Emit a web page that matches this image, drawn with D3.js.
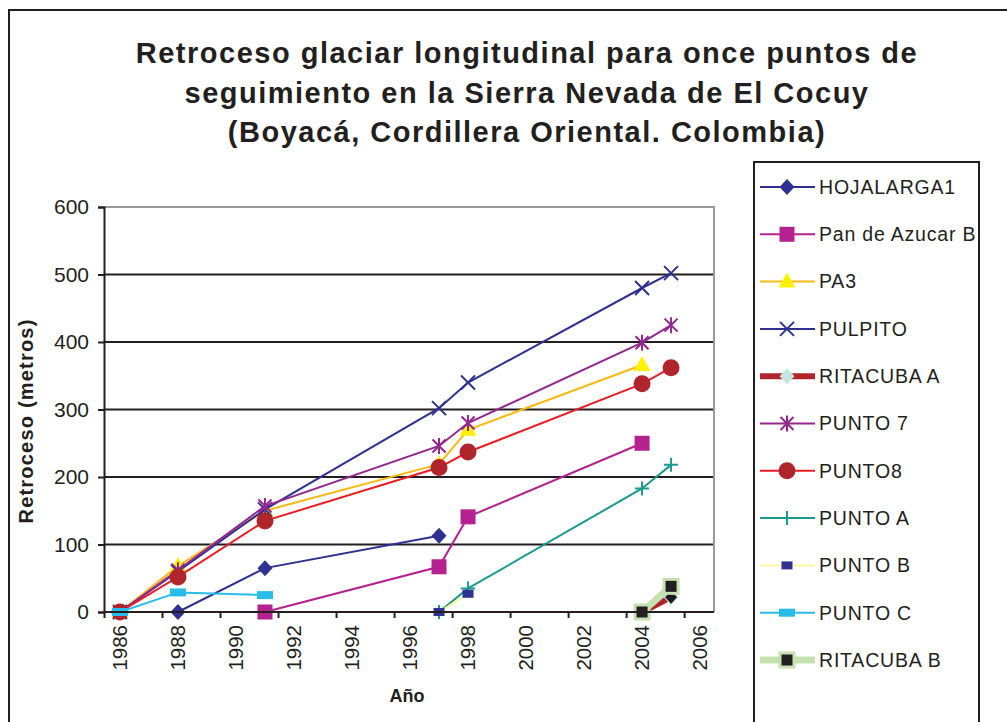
<!DOCTYPE html>
<html>
<head>
<meta charset="utf-8">
<script src="https://cdn.jsdelivr.net/npm/d3@7"></script>
<style>
  body { margin: 0; background: #fff; }
  svg { display: block; font-family: "Liberation Sans", Arial, sans-serif; }
</style>
</head>
<body>
<svg id="chart" width="1007" height="722"></svg>
<script>
(function() {

    // data: [year, retroceso (m)]
    var hojalarga1 = [[1988, 0], [1991, 65], [1997, 113]];
    var panDeAzucarB = [[1991, 0], [1997, 67], [1998, 141], [2004, 250]];
    var pa3 = [[1986, 0], [1988, 68], [1991, 150], [1997, 219], [1998, 270], [2004, 366]];
    var pulpito = [[1986, 0], [1988, 60], [1991, 152], [1997, 302], [1998, 340], [2004, 480], [2005, 502]];
    var ritacubaA = [[2004, 0], [2005, 22]];
    var punto7 = [[1986, 0], [1988, 62], [1991, 157], [1997, 246], [1998, 280], [2004, 399], [2005, 425]];
    var punto8 = [[1986, 0], [1988, 52], [1991, 135], [1997, 214], [1998, 237], [2004, 338], [2005, 362]];
    var puntoA = [[1997, 0], [1998, 35], [2004, 183], [2005, 218]];
    var puntoB = [[1997, 0], [1998, 27]];
    var puntoC = [[1986, 0], [1988, 29], [1991, 25]];
    var ritacubaB = [[2004, 0], [2005, 38]];

    var seriesNames = ['HOJALARGA1', 'Pan de Azucar B', 'PA3', 'PULPITO', 'RITACUBA A',
        'PUNTO 7', 'PUNTO8', 'PUNTO A', 'PUNTO B', 'PUNTO C', 'RITACUBA B'];
    var seriesData = [hojalarga1, panDeAzucarB, pa3, pulpito, ritacubaA,
        punto7, punto8, puntoA, puntoB, puntoC, ritacubaB];

    var yearTicks = [1986, 1988, 1990, 1992, 1994, 1996, 1998, 2000, 2002, 2004, 2006];
    var valueTicks = [0, 100, 200, 300, 400, 500, 600];

    var titleLines = [
        'Retroceso glaciar longitudinal para once puntos de',
        'seguimiento en la Sierra Nevada de El Cocuy',
        '(Boyacá, Cordillera Oriental. Colombia)'
    ];

    // styles, one per series
    var styles = {
        'HOJALARGA1':      { line: '#2e3192', lw: 2, mk: 'diamond', fill: '#2e3192' },
        'Pan de Azucar B': { line: '#b5218e', lw: 2, mk: 'square', fill: '#b5218e' },
        'PA3':             { line: '#fdb913', lw: 2, mk: 'triangle', fill: '#fff200' },
        'PULPITO':         { line: '#2e3192', lw: 2, mk: 'x', fill: '#2e3192' },
        'RITACUBA A':      { line: '#b0252b', lw: 6, mk: 'diamondS', fill: '#c3e6e3' },
        'PUNTO 7':         { line: '#92278f', lw: 2, mk: 'asterisk', fill: '#92278f' },
        'PUNTO8':          { line: '#ed1c24', lw: 2, mk: 'circle', fill: '#b0252b' },
        'PUNTO A':         { line: '#1b9a8e', lw: 2, mk: 'plus', fill: '#1b9a8e' },
        'PUNTO B':         { line: '#fff59d', lw: 2, mk: 'dash', fill: '#2e3192' },
        'PUNTO C':         { line: '#27bde8', lw: 2, mk: 'bar', fill: '#27bde8' },
        'RITACUBA B':      { line: '#c5e1b0', lw: 7, mk: 'squareB', fill: '#231f20' }
    };

    var svg = d3.select('#chart');
    var ink = '#231f20';

    // chart area border
    svg.append('rect')
        .attr('x', 9).attr('y', 10)
        .attr('width', 1010).attr('height', 730)
        .attr('fill', 'none').attr('stroke', ink).attr('stroke-width', 2);

    // title
    svg.append('text')
        .attr('x', 527).attr('y', 63)
        .attr('text-anchor', 'middle')
        .attr('font-size', 29).attr('font-weight', 'bold').attr('fill', ink)
        .attr('letter-spacing', 1.5)
        .selectAll('tspan')
        .data(titleLines)
        .enter()
        .append('tspan')
        .attr('x', 527)
        .attr('dy', function(d, i) { return i ? 39.5 : 0; })
        .text(function(d) { return d; });

    var left = 104, right = 714, top = 207, bottom = 612;

    var x = d3.scaleLinear().domain([1985.45, 2006.48]).range([left, right]);
    var y = d3.scaleLinear().domain([0, 600]).range([bottom, top]);

    var plot = svg.append('g');

    // gridlines
    plot.selectAll('line.grid')
        .data(valueTicks.filter(function(v) { return v > 0 && v < 600; }))
        .enter()
        .append('line')
        .attr('x1', left).attr('x2', right)
        .attr('y1', function(d) { return y(d); })
        .attr('y2', function(d) { return y(d); })
        .attr('stroke', ink).attr('stroke-width', 2);

    // plot area top / right border
    plot.append('path')
        .attr('d', 'M' + left + ',' + y(600) + 'H' + right + 'V' + bottom)
        .attr('fill', 'none').attr('stroke', '#9a9a9a').attr('stroke-width', 2);

    // y axis
    var yAxis = d3.axisLeft(y).tickValues(valueTicks).tickSize(6).tickPadding(9);
    var gy = svg.append('g').attr('transform', 'translate(' + left + ',0)').call(yAxis);
    gy.select('.domain').attr('stroke', ink).attr('stroke-width', 2);
    gy.selectAll('.tick line').attr('stroke', ink).attr('stroke-width', 2);
    gy.selectAll('.tick text')
        .attr('font-size', 21).attr('fill', ink)
        .attr('font-family', '"Liberation Sans", Arial, sans-serif');

    // x axis: tick marks sit half a year before the labels, as in the source
    var tickMarks = yearTicks.map(function(v) { return v - 0.55; });
    var xAxis = d3.axisBottom(x).tickValues(tickMarks).tickSize(6).tickFormat('');
    var gx = svg.append('g').attr('transform', 'translate(0,' + bottom + ')').call(xAxis);
    gx.select('.domain').attr('stroke', ink).attr('stroke-width', 2)
        .attr('d', 'M' + left + ',0H' + right);
    gx.selectAll('.tick line').attr('stroke', ink).attr('stroke-width', 2);

    svg.append('g').selectAll('text')
        .data(yearTicks)
        .enter()
        .append('text')
        .attr('transform', function(d) { return 'translate(' + x(d) + ',' + (bottom + 13) + ') rotate(-90)'; })
        .attr('text-anchor', 'end')
        .attr('dy', '0.35em')
        .attr('font-size', 20.5).attr('fill', ink)
        .text(function(d) { return d; });

    // axis titles
    svg.append('text')
        .attr('transform', 'translate(33,421) rotate(-90)')
        .attr('text-anchor', 'middle')
        .attr('font-size', 20).attr('font-weight', 'bold').attr('fill', ink)
        .attr('letter-spacing', 1.2)
        .text('Retroceso (metros)');

    svg.append('text')
        .attr('x', 407).attr('y', 702)
        .attr('text-anchor', 'middle')
        .attr('font-size', 18).attr('font-weight', 'bold').attr('fill', ink)
        .text('Año');

    // marker drawing
    function marker(g, s, cx, cy) {
        var m = s.mk;
        if (m === 'diamond' || m === 'diamondS') {
            var w = m === 'diamond' ? 7.5 : 6;
            g.append('path')
                .attr('d', 'M' + cx + ',' + (cy - w - 0.5) + 'L' + (cx + w) + ',' + cy + 'L' + cx + ',' + (cy + w + 0.5) + 'L' + (cx - w) + ',' + cy + 'Z')
                .attr('fill', s.fill);
        } else if (m === 'square') {
            g.append('rect').attr('x', cx - 7.5).attr('y', cy - 7.5)
                .attr('width', 15).attr('height', 15).attr('fill', s.fill);
        } else if (m === 'squareB') {
            g.append('rect').attr('x', cx - 7).attr('y', cy - 7)
                .attr('width', 14).attr('height', 14).attr('fill', s.fill)
                .attr('stroke', s.line).attr('stroke-width', 3);
        } else if (m === 'triangle') {
            g.append('path')
                .attr('d', 'M' + cx + ',' + (cy - 9) + 'L' + (cx + 8.5) + ',' + (cy + 6) + 'L' + (cx - 8.5) + ',' + (cy + 6) + 'Z')
                .attr('fill', s.fill);
        } else if (m === 'circle') {
            g.append('circle').attr('cx', cx).attr('cy', cy).attr('r', 8.5).attr('fill', s.fill);
        } else if (m === 'x') {
            g.append('path')
                .attr('d', 'M' + (cx - 7) + ',' + (cy - 7) + 'L' + (cx + 7) + ',' + (cy + 7) + 'M' + (cx + 7) + ',' + (cy - 7) + 'L' + (cx - 7) + ',' + (cy + 7))
                .attr('stroke', s.fill).attr('stroke-width', 2);
        } else if (m === 'asterisk') {
            g.append('path')
                .attr('d', 'M' + (cx - 6.5) + ',' + (cy - 6.5) + 'L' + (cx + 6.5) + ',' + (cy + 6.5) + 'M' + (cx + 6.5) + ',' + (cy - 6.5) + 'L' + (cx - 6.5) + ',' + (cy + 6.5) + 'M' + cx + ',' + (cy - 8) + 'V' + (cy + 8))
                .attr('stroke', s.fill).attr('stroke-width', 2);
        } else if (m === 'plus') {
            g.append('path')
                .attr('d', 'M' + (cx - 7) + ',' + cy + 'H' + (cx + 7) + 'M' + cx + ',' + (cy - 7) + 'V' + (cy + 7))
                .attr('stroke', s.fill).attr('stroke-width', 2);
        } else if (m === 'dash') {
            g.append('rect').attr('x', cx - 5.5).attr('y', cy - 4)
                .attr('width', 11).attr('height', 8).attr('fill', s.fill);
        } else if (m === 'bar') {
            g.append('rect').attr('x', cx - 8).attr('y', cy - 4)
                .attr('width', 16).attr('height', 8).attr('fill', s.fill);
        }
    }

    var line = d3.line()
        .x(function(d) { return x(d[0]); })
        .y(function(d) { return y(d[1]); });

    var seriesG = plot.selectAll('g.series')
        .data(seriesNames)
        .enter()
        .append('g')
        .attr('class', 'series');

    seriesG.each(function(name, i) {
        var g = d3.select(this);
        var s = styles[name];
        g.append('path')
            .attr('d', line(seriesData[i]))
            .attr('fill', 'none')
            .attr('stroke', s.line)
            .attr('stroke-width', s.lw);
        seriesData[i].forEach(function(d) {
            var ms = s;
            if (s.mk === 'diamondS') {
                ms = { mk: 'diamondS', fill: '#1e1a1b', line: s.line };
                marker(g, { mk: 'diamond', fill: s.fill }, x(d[0]), y(d[1]));
            }
            marker(g, ms, x(d[0]), y(d[1]));
        });
    });

    // legend
    var lx = 754, ly = 162;
    svg.append('rect')
        .attr('x', lx).attr('y', ly)
        .attr('width', 225).attr('height', 600)
        .attr('fill', '#fff').attr('stroke', ink).attr('stroke-width', 2);

    var leg = svg.append('g').selectAll('g')
        .data(seriesNames)
        .enter()
        .append('g')
        .attr('transform', function(d, i) { return 'translate(0,' + (187 + i * 47.3) + ')'; });

    leg.each(function(name) {
        var g = d3.select(this);
        var s = styles[name];
        g.append('line')
            .attr('x1', 760).attr('x2', 815)
            .attr('stroke', s.line).attr('stroke-width', s.lw);
        if (s.mk === 'diamondS') {
            marker(g, { mk: 'diamond', fill: s.fill }, 787, 0);
        } else {
            marker(g, s, 787, 0);
        }
        g.append('text')
            .attr('x', 819).attr('dy', '0.35em')
            .attr('font-size', 19.5).attr('fill', ink)
            .attr('letter-spacing', 0.8)
            .text(name);
    });

})();
</script>
</body>
</html>
